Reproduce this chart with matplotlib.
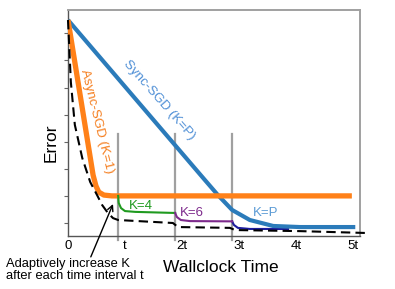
import numpy as np
import matplotlib
matplotlib.use('Agg')
import matplotlib.pyplot as plt

plt.rcParams['font.family'] = ['Liberation Sans', 'DejaVu Sans']

# time in units of the interval t, error in arbitrary units
sync_t = [0.0, 2.40, 2.63, 2.88, 3.19, 3.60, 4.07, 5.04]
sync_err = [7.49, 1.59, 1.03, 0.48, 0.11, -0.11, -0.15, -0.15]

async_t = [0.0, 0.44, 0.49, 0.54, 0.63, 0.77, 4.98]
async_err = [7.49, 1.77, 1.37, 1.14, 1.03, 1.00, 1.00]

best_t = [0.0, 0.05, 0.12, 0.25, 0.39, 0.51, 0.60, 0.70, 0.79, 0.88,
          1.84, 1.93, 2.84, 2.93, 4.07, 5.25]
best_err = [7.49, 5.20, 3.62, 2.40, 1.51, 1.03, 0.66, 0.37, 0.18, 0.11,
            0.0, -0.15, -0.18, -0.26, -0.30, -0.37]

k4_t = [0.88, 0.89, 0.93, 1.00, 1.18, 1.88]
k4_err = [1.00, 0.74, 0.55, 0.44, 0.41, 0.37]
k6_t = [1.88, 1.91, 1.98, 2.14, 2.88]
k6_err = [0.37, 0.22, 0.11, 0.07, 0.06]
kp_t = [2.88, 2.91, 2.98, 3.19, 3.86]
kp_err = [0.06, -0.07, -0.18, -0.22, -0.22]

switch_t = [0.88, 1.88, 2.88]
tick_pos = [0, 1, 2, 3, 4, 5]
tick_labels = ['0', 't', '2t', '3t', '4t', '5t']

fig = plt.figure(figsize=(3.95, 2.89), dpi=100)
ax = fig.add_axes([68 / 395, 53 / 289, 292 / 395, 226 / 289])
ax.set_xlim(0, 292 / 57)
ax.set_ylim(-0.48, 7.86)

for x in switch_t:
    ax.plot([x, x], [3.28, -0.63], color='#a0a0a0', lw=1.6, clip_on=False, zorder=1)

ax.plot(sync_t, sync_err, color='#2b7bba', lw=3.0, solid_capstyle='butt', zorder=3)
ax.plot(async_t, async_err, color='#ff8119', lw=3.8, solid_capstyle='butt', zorder=3)
ax.plot(k4_t, k4_err, color='#1f9a1f', lw=1.5, zorder=4)
ax.plot(k6_t, k6_err, color='#7d2a8c', lw=1.5, zorder=4)
ax.plot(kp_t, kp_err, color='#1c1c9c', lw=1.5, zorder=2)
ax.plot(best_t, best_err, color='black', lw=1.5, ls=(0, (4.5, 2.5)), clip_on=False, zorder=5)

ax.text(1.60, 4.55, 'Sync-SGD (K=P)', rotation=-48.5, color='#4f8fd6',
        fontsize=9.6, ha='center', va='center')
ax.text(0.50, 3.76, 'Async-SGD (K=1)', rotation=-76, color='#f57f20',
        fontsize=9.6, ha='center', va='center')
ax.text(1.28, 0.62, 'K=4', color='#1f9a1f', fontsize=9.5, ha='center', va='center')
ax.text(2.18, 0.37, 'K=6', color='#7d2a8c', fontsize=9.5, ha='center', va='center')
ax.text(3.46, 0.37, 'K=P', color='#5b9bd5', fontsize=9.5, ha='center', va='center')

ax.annotate('', xy=(0.79, 0.70), xytext=(0.40, -1.25), annotation_clip=False,
            arrowprops=dict(arrowstyle='->', color='black', lw=1.0, shrinkA=0, shrinkB=0))

ax.set_xticks(tick_pos)
ax.set_xticklabels(tick_labels, fontsize=9.5)
ax.tick_params(axis='x', length=0, pad=3)
ax.set_yticks(range(8))
ax.set_yticklabels([])
ax.tick_params(axis='y', length=3, color='#666666', width=0.8)

for side in ['left', 'bottom']:
    ax.spines[side].set_color('#555555')
    ax.spines[side].set_linewidth(1.0)
for side in ['top', 'right']:
    ax.spines[side].set_color('#a0a0a0')
    ax.spines[side].set_linewidth(1.4)

fig.text(51 / 395, 1 - 143 / 289, 'Error', rotation=90, fontsize=12.5, ha='center', va='center')
fig.text(221 / 395, 1 - 268 / 289, 'Wallclock Time', fontsize=12.5, ha='center', va='center')
fig.text(6 / 395, 1 - 270 / 289, 'Adaptively increase K\nafter each time interval t',
         fontsize=9.3, ha='left', va='center', linespacing=1.1)

fig.savefig('out.png', dpi=100)
